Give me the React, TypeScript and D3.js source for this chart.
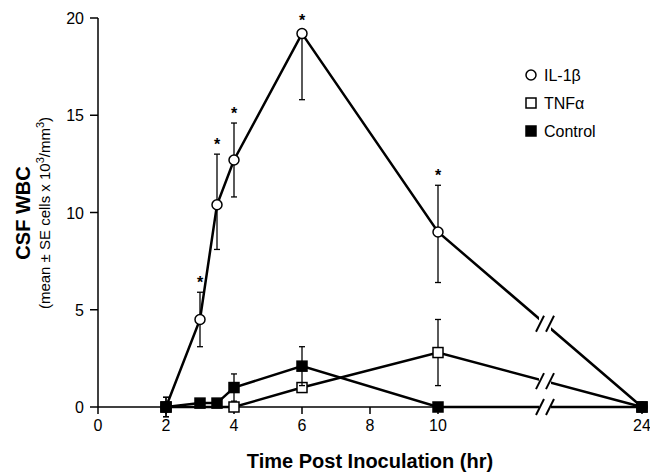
import React from 'react';
import * as d3 from 'd3';

const xTicks = [0, 2, 4, 6, 8, 10, 24];
const yTicks = [0, 5, 10, 15, 20];

const ilX = [2, 3, 3.5, 4, 6, 10, 24];
const ilY = [0, 4.5, 10.4, 12.7, 19.2, 9, 0];
const ilUp = [0.5, 1.4, 2.6, 1.9, 0, 2.4, 0];
const ilDown = [0.5, 1.4, 2.3, 1.9, 3.4, 2.6, 0];
const ilStar = [false, true, true, true, true, true, false];

const tnfX = [2, 4, 6, 10, 24];
const tnfY = [0, 0, 1, 2.8, 0];
const tnfErr = [0, 0, 0, 1.7, 0];

const ctlX = [2, 3, 3.5, 4, 6, 10, 24];
const ctlY = [0, 0.2, 0.2, 1, 2.1, 0, 0];
const ctlErr = [0.5, 0, 0, 0.7, 1, 0, 0];

const x = d3.scaleLinear().domain([0, 10, 24]).range([98, 438, 642]);
const y = d3.scaleLinear().domain([0, 20]).range([407, 18]);
const line = d3.line<[number, number]>().x(d => x(d[0])).y(d => y(d[1]));
const font = 'Helvetica, Arial, "Liberation Sans", sans-serif';

function BreakMark({ cx, cy }: { cx: number; cy: number }) {
  return (
    <g>
      <rect x={cx - 6} y={cy - 9} width={12} height={18} fill="white" />
      <line x1={cx - 9} y1={cy + 8} x2={cx - 1} y2={cy - 8} stroke="black" strokeWidth={2} />
      <line x1={cx + 1} y1={cy + 8} x2={cx + 9} y2={cy - 8} stroke="black" strokeWidth={2} />
    </g>
  );
}

function Series({ xs, ys, up, down, kind }: { xs: number[]; ys: number[]; up: number[]; down: number[]; kind: string }) {
  const pts = xs.map((v, i) => [v, ys[i]] as [number, number]);
  return (
    <g>
      <path d={line(pts) || ''} fill="none" stroke="black" strokeWidth={2.5} />
      {pts.map(([a, b], i) => (
        <g key={'e' + i}>
          {up[i] > 0 && (
            <g>
              <line x1={x(a)} x2={x(a)} y1={y(b)} y2={y(b + up[i])} stroke="black" strokeWidth={1.3} />
              <line x1={x(a) - 3} x2={x(a) + 3} y1={y(b + up[i])} y2={y(b + up[i])} stroke="black" strokeWidth={1.3} />
            </g>
          )}
          {down[i] > 0 && (
            <g>
              <line x1={x(a)} x2={x(a)} y1={y(b)} y2={y(b - down[i])} stroke="black" strokeWidth={1.3} />
              <line x1={x(a) - 3} x2={x(a) + 3} y1={y(b - down[i])} y2={y(b - down[i])} stroke="black" strokeWidth={1.3} />
            </g>
          )}
        </g>
      ))}
      {pts.map(([a, b], i) =>
        kind === 'circle' ? (
          <circle key={i} cx={x(a)} cy={y(b)} r={5} fill="white" stroke="black" strokeWidth={1.5} />
        ) : (
          <rect key={i} x={x(a) - 5} y={y(b) - 5} width={10} height={10}
            fill={kind === 'filled' ? 'black' : 'white'} stroke="black" strokeWidth={1.5} />
        )
      )}
    </g>
  );
}

export default function App() {
  const bx = 545;
  return (
    <svg width={650} height={475} style={{ position: 'absolute', left: 0, top: 0 }} fontFamily={font}>
      <rect width={650} height={475} fill="white" />
      <line x1={98} x2={98} y1={18} y2={407} stroke="black" strokeWidth={1.5} />
      <line x1={98} x2={645} y1={407} y2={407} stroke="black" strokeWidth={1.5} />
      {yTicks.map(t => (
        <g key={t}>
          <line x1={90} x2={98} y1={y(t)} y2={y(t)} stroke="black" strokeWidth={1.5} />
          <text x={84} y={y(t) + 6} fontSize={16} textAnchor="end">{t}</text>
        </g>
      ))}
      {xTicks.map(t => (
        <g key={t}>
          <line x1={x(t)} x2={x(t)} y1={407} y2={414} stroke="black" strokeWidth={1.5} />
          <text x={x(t)} y={431} fontSize={16} textAnchor="middle">{t}</text>
        </g>
      ))}
      <Series xs={ilX} ys={ilY} up={ilUp} down={ilDown} kind="circle" />
      <Series xs={tnfX} ys={tnfY} up={tnfErr} down={tnfErr} kind="open" />
      <Series xs={ctlX} ys={ctlY} up={ctlErr} down={ctlErr} kind="filled" />
      {ilX.map((v, i) =>
        ilStar[i] ? (
          <text key={i} x={x(v)} y={y(ilY[i] + ilUp[i]) - (ilUp[i] > 0 ? 4 : 8)} fontSize={16} fontWeight="bold" textAnchor="middle">*</text>
        ) : null
      )}
      <BreakMark cx={bx} cy={y(ilY[5] + (ilY[6] - ilY[5]) * ((x.invert(bx) - 10) / 14))} />
      <BreakMark cx={bx} cy={y(tnfY[3] + (tnfY[4] - tnfY[3]) * ((x.invert(bx) - 10) / 14))} />
      <BreakMark cx={bx} cy={407} />
      <circle cx={531} cy={75} r={5} fill="white" stroke="black" strokeWidth={1.5} />
      <text x={544} y={81} fontSize={16}>IL-1β</text>
      <rect x={526} y={98} width={10} height={10} fill="white" stroke="black" strokeWidth={1.5} />
      <text x={544} y={109} fontSize={16}>TNFα</text>
      <rect x={526} y={126} width={10} height={10} fill="black" stroke="black" strokeWidth={1.5} />
      <text x={544} y={137} fontSize={16}>Control</text>
      <text x={370} y={468} fontSize={20} fontWeight="bold" textAnchor="middle">Time Post Inoculation (hr)</text>
      <g transform="translate(30,213) rotate(-90)">
        <text x={0} y={0} fontSize={20} fontWeight="bold" textAnchor="middle">CSF WBC</text>
        <text x={0} y={20} fontSize={15} textAnchor="middle">
          (mean ± SE cells x 10<tspan dy={-6} fontSize={11}>3</tspan><tspan dy={6}>/mm</tspan><tspan dy={-6} fontSize={11}>3</tspan><tspan dy={6}>)</tspan>
        </text>
      </g>
    </svg>
  );
}
